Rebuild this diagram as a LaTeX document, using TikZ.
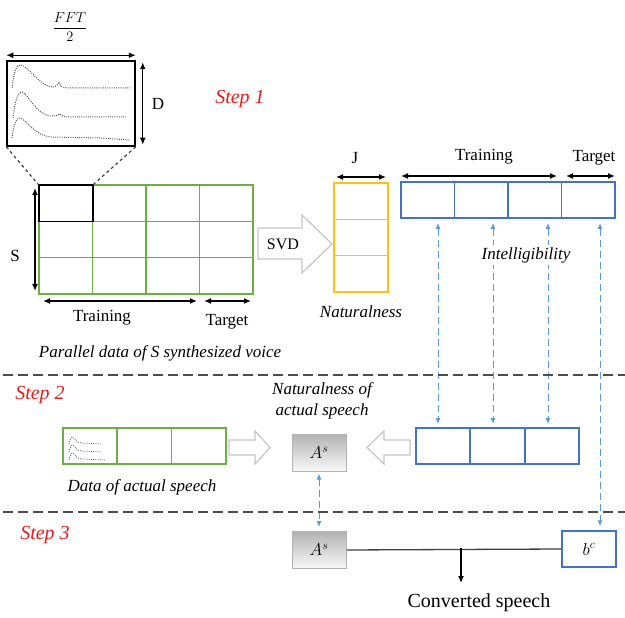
\documentclass[tikz,border=0pt]{standalone}
\usepackage{fontspec}
\setmainfont{Liberation Serif}
\usetikzlibrary{arrows.meta}
\definecolor{cgreen}{RGB}{112,173,71}
\definecolor{cyellow}{RGB}{250,195,20}
\definecolor{cblue}{RGB}{68,114,196}
\definecolor{clblue}{RGB}{91,155,213}
\definecolor{cred}{RGB}{225,30,30}
\tikzset{
  dim/.style={{Latex[length=7pt,width=6pt]}-{Latex[length=7pt,width=6pt]}, line width=1.3pt},
  bdash/.style={clblue, dash pattern=on 7pt off 4pt, line width=1pt, {Latex[length=6pt,width=5pt]}-{Latex[length=6pt,width=5pt]}},
  sep/.style={dash pattern=on 10pt off 5pt, black!70, line width=1.3pt},
  lbl/.style={font=\fontsize{17}{19}\selectfont, inner sep=0pt},
  ilbl/.style={font=\fontsize{17}{19}\selectfont\itshape, inner sep=0pt},
  steplbl/.style={font=\fontsize{20}{22}\selectfont\itshape, text=cred, inner sep=0pt},
  hollow/.style={draw=gray!45, line width=1.2pt, fill=white, line join=miter},
  cell/.style={minimum width=#1, inner sep=0pt, outer sep=0pt, line width=1.3pt},
  gcell/.style={cell=53.5pt, minimum height=36.3pt, draw=cgreen},
  ycell/.style={cell=54pt, minimum height=36.3pt, draw=cyellow},
  bcell/.style={cell=53.5pt, minimum height=36pt, draw=cblue},
  scell/.style={cell=54.3pt, minimum height=36pt, draw=cgreen},
  s2cell/.style={cell=54.3pt, minimum height=36pt, draw=cblue},
  abox/.style={minimum width=54pt, minimum height=37pt, inner sep=0pt, draw=gray!60, line width=1pt, top color=gray!60, bottom color=gray!5, font=\fontsize{17}{19}\selectfont},
  spec/.style={dash pattern=on 1pt off 1.2pt, line width=1pt, black!65},
}
\begin{document}
\begin{tikzpicture}[x=1pt,y=-1pt]
\useasboundingbox (0,0) rectangle (625,618);

% ---------- Step 1 ----------
\node[steplbl] (st1) at (240,99) {Step 1};

% spectrum box
\node[draw, line width=1.5pt, minimum width=128pt, minimum height=85pt, inner sep=0pt] (spec) at (71,103.5) {};
\draw[spec] (12,88) .. controls (14,70) and (17,64) .. (21,65) .. controls (28,66) and (40,86) .. (52,87) .. controls (56,87) and (57,86) .. (59,82) .. controls (60,86) and (62,88) .. (70,88) -- (130,88);
\draw[spec] (13,118) .. controls (15,100) and (18,92) .. (22,92) .. controls (28,93) and (36,116) .. (52,116) .. controls (56,116) and (58,115) .. (60,114) .. controls (61,116) and (63,117) .. (70,117) -- (126,117);
\draw[spec] (12,138) .. controls (14,124) and (16,118) .. (20,118) .. controls (26,119) and (34,136) .. (52,137) -- (100,138) -- (130,140);

\node[font=\fontsize{15}{17}\selectfont] (fft) at (70,27) {$\displaystyle\frac{FFT}{2}$};
\draw[dim] ([yshift=5pt]spec.north west) -- ([yshift=5pt]spec.north east);
\draw[dim] ([xshift=7pt,yshift=-2pt]spec.north east) -- ([xshift=7pt,yshift=2pt]spec.south east);
\node[lbl] (D) at (158,104) {D};

% big grid
\foreach \i in {0,...,3}{
  \foreach \j in {0,1,2}{
    \node[gcell] (g\i\j) at ({39+53.5*\i+26.75},{185+36.3*\j+18.15}) {};
  }
}
\node[cell=54pt, minimum height=36.3pt, draw=black, line width=1.6pt] (blk) at (g00) {};
\draw[dashed, black!75, line width=1.2pt] (spec.south west) -- (blk.north west);
\draw[dashed, black!75, line width=1.2pt] (spec.south east) -- (blk.north east);

\draw[dim] ([xshift=-4pt,yshift=-3pt]g00.north west) -- ([xshift=-4pt,yshift=3pt]g02.south west);
\node[lbl] (S) at (15,256) {S};
\draw[dim] (43,301) -- (197,301);
\draw[dim] (204,301) -- (251,301);
\node[lbl] (tr1) at (102,318) {Training};
\node[lbl] (ta1) at (227,322) {Target};
\node[ilbl] (par) at (160,353) {Parallel data of S synthesized voice};

% SVD arrow
\draw[hollow] (258,228) -- (302,228) -- (302,215) -- (332,244) -- (302,273) -- (302,259) -- (258,259) -- cycle;
\node[lbl, font=\fontsize{16}{18}\selectfont] (svd) at (283,244) {SVD};

% yellow column
\foreach \j in {0,1,2}{
  \node[ycell] (y\j) at (361,{183+36.3*\j+18.15}) {};
}
\draw[dim] (336,177) -- (386,177);
\node[lbl] (J) at (355,158) {J};
\node[ilbl] (nat) at (361,312) {Naturalness};

% blue row
\foreach \i in {1,...,4}{
  \node[bcell] (b\i) at ({401+53.5*(\i-1)+26.75},200) {};
}
\draw[dim] (401,176) -- (557,176);
\draw[dim] (566,176) -- (615,176);
\node[lbl] (tr2) at (484,157) {Training};
\node[lbl] (ta2) at (594,158) {Target};

% ---------- separators ----------
\coordinate (sepA1) at (3,375);
\coordinate (sepA2) at (625,375);
\coordinate (sepB1) at (3,512);
\coordinate (sepB2) at (625,512);

% ---------- Step 2 ----------
\node[steplbl] (st2) at (40,395) {Step 2};
\foreach \i in {1,2,3}{
  \node[scell] (d\i) at ({63+54.3*(\i-1)+27.15},446) {};
}
\draw[cgreen, line width=2pt] (d1.north east) -- (d1.south east);
\draw[spec, line width=0.7pt] (69,444) .. controls (70,438) and (72,436) .. (74,438) .. controls (76,441) and (78,443) .. (82,443) -- (102,444);
\draw[spec, line width=0.7pt] (69,452) .. controls (70,446) and (72,444) .. (74,446) .. controls (76,449) and (78,451) .. (82,451) -- (101,452);
\draw[spec, line width=0.7pt] (69,460) .. controls (70,454) and (72,452) .. (74,454) .. controls (76,457) and (78,459) .. (82,459) -- (105,460);
\node[ilbl] (dat) at (142,487) {Data of actual speech};

\draw[hollow] (229,440) -- (255,440) -- (255,431) -- (270,447.5) -- (255,464) -- (255,455) -- (229,455) -- cycle;

\node[abox] (As1) at (319,452.5) {$A^s$};
\node[ilbl, align=center, font=\fontsize{17}{21}\selectfont\itshape] (natact) at (322,401) {Naturalness of\\actual speech};

\draw[hollow] (410,440) -- (384,440) -- (384,431) -- (367,447.5) -- (384,464) -- (384,455) -- (410,455) -- cycle;

\foreach \i in {1,2,3}{
  \node[s2cell] (c\i) at ({416+54.3*(\i-1)+27.15},446) {};
}
\draw[cblue, line width=2pt] (c1.north east) -- (c1.south east);
\draw[cblue, line width=2pt] (c2.north east) -- (c2.south east);

% ---------- Step 3 ----------
\node[steplbl] (st3) at (45,535) {Step 3};
\node[abox] (As2) at (319,550) {$A^s$};
\node[draw=cblue, line width=1.3pt, minimum width=54pt, minimum height=36pt, inner sep=0pt, font=\fontsize{17}{19}\selectfont] (bc) at (589,549) {$b^c$};
\draw[line width=1.3pt, black!75] (As2.east) -- (bc.west);
\coordinate (mid) at (461,548);
\coordinate (outp) at (461,583);
\draw[line width=1.3pt, -{Latex[length=7pt,width=6pt]}] (mid) -- (outp);
\node[lbl, font=\fontsize{20}{22}\selectfont] (conv) at (479,603) {Converted speech};

% ---------- blue dashed connectors ----------
\coordinate (k1) at (438,0);
\coordinate (k2) at (493,0);
\coordinate (k3) at (548,0);
\coordinate (k4) at (600,0);
\draw[bdash] ([yshift=-5pt]k1 |- b1.south) -- ([yshift=4pt]k1 |- c1.north);
\draw[bdash] ([yshift=-5pt]k2 |- b2.south) -- ([yshift=4pt]k2 |- c2.north);
\draw[bdash] ([yshift=-5pt]k3 |- b3.south) -- ([yshift=4pt]k3 |- c3.north);
\draw[bdash] ([yshift=-5pt]k4 |- b4.south) -- ([yshift=4pt]k4 |- bc.north);
\draw[bdash] ([yshift=-2pt]As1.south) -- ([yshift=4pt]As2.north);
\node[ilbl, fill=white, inner sep=2pt] (intel) at (526,255) {Intelligibility};

\draw[sep] (sepA1) -- (sepA2);
\draw[sep] (sepB1) -- (sepB2);
\end{tikzpicture}
\end{document}
